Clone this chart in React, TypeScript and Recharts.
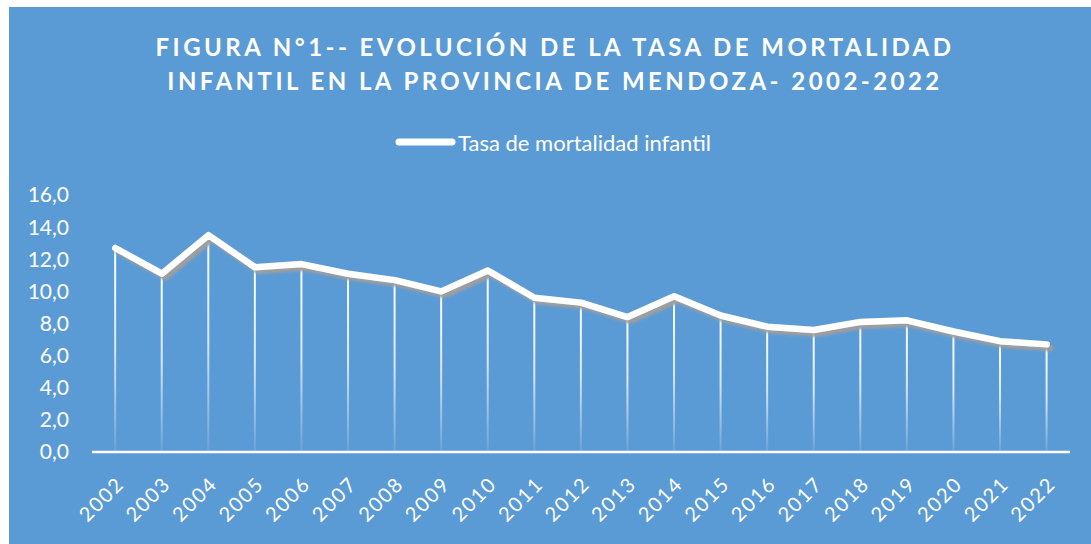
import React from 'react';
import { ComposedChart, Line, Bar, XAxis, YAxis } from 'recharts';

const years = ['2002','2003','2004','2005','2006','2007','2008','2009','2010','2011','2012','2013','2014','2015','2016','2017','2018','2019','2020','2021','2022'];
const tasa = [12.7, 11.1, 13.5, 11.5, 11.7, 11.1, 10.7, 10.0, 11.3, 9.6, 9.3, 8.4, 9.7, 8.5, 7.8, 7.6, 8.1, 8.2, 7.5, 6.9, 6.7];
const yTicks = [0, 2, 4, 6, 8, 10, 12, 14, 16];
const titleLines = ['FIGURA N°1-- EVOLUCIÓN DE LA TASA DE MORTALIDAD', 'INFANTIL EN LA PROVINCIA DE MENDOZA- 2002-2022'];
const seriesName = 'Tasa de mortalidad infantil';

const data = years.map((y, i) => ({ year: y, tasa: tasa[i] }));

const FONT = 'Lato, "Open Sans", sans-serif';

const DropLine = (props: any) => {
  const { x, y, width, height } = props;
  if (height == null || height <= 0) return null;
  return <rect x={x + width / 2 - 1} y={y} width={2} height={height} fill="url(#dropGrad)" />;
};

const XTick = (props: any) => {
  const { x, y, payload } = props;
  return (
    <g transform={`translate(${x},${y})`}>
      <text x={0} y={0} dy="0.72em" textAnchor="end" transform="rotate(-45)" fill="#FFFFFF" fontSize={20} letterSpacing={1.8} fontFamily={FONT}>
        {payload.value}
      </text>
    </g>
  );
};

export default function App() {
  return (
    <div style={{ position: 'absolute', left: 9, top: 7, width: 1082, height: 537, background: '#5B9BD5', overflow: 'hidden' }}>
      {titleLines.map((t, i) => (
        <div key={i} style={{ position: 'absolute', left: 5, width: 1082, top: 26 + i * 34, textAlign: 'center', fontFamily: FONT, fontWeight: 700, fontSize: 24, letterSpacing: 3.45, color: '#fff', lineHeight: '28.8px', whiteSpace: 'nowrap' }}>
          {t}
        </div>
      ))}
      <div style={{ position: 'absolute', left: 385, top: 120, height: 30, display: 'flex', alignItems: 'center', fontFamily: FONT, color: '#fff', fontSize: 22, whiteSpace: 'nowrap' }}>
        <svg width={62} height={10} style={{ marginRight: 2 }}>
          <line x1={5} y1={5} x2={58} y2={5} stroke="#fff" strokeWidth={7} strokeLinecap="round" />
        </svg>
        <span>{seriesName}</span>
      </div>
      <ComposedChart width={1082} height={537} data={data} margin={{ top: 188, right: 21, bottom: 12, left: 23 }}>
        <defs>
          <linearGradient id="dropGrad" x1="0" y1="0" x2="0" y2="1">
            <stop offset="0" stopColor="#FFFFFF" stopOpacity={1} />
            <stop offset="0.5" stopColor="#FFFFFF" stopOpacity={0.75} />
            <stop offset="1" stopColor="#FFFFFF" stopOpacity={0.08} />
          </linearGradient>
          <filter id="lineShadow" x="-5%" y="-20%" width="110%" height="140%">
            <feDropShadow dx={3.5} dy={3.5} stdDeviation={0.8} floodColor="#9E9E9E" floodOpacity={1} />
          </filter>
        </defs>
        <XAxis dataKey="year" axisLine={{ stroke: '#FFFFFF', strokeWidth: 2.5 }} tickLine={false} tick={<XTick />} interval={0} height={80} tickSize={0} tickMargin={23} />
        <YAxis domain={[0, 16]} ticks={yTicks} axisLine={false} tickLine={false} tickSize={0} tickMargin={23} width={60}
          tickFormatter={(v: number) => v.toFixed(1).replace('.', ',')}
          tick={{ fill: '#FFFFFF', fontSize: 21, fontFamily: FONT }} />
        <Bar dataKey="tasa" shape={<DropLine />} isAnimationActive={false} legendType="none" />
        <Line dataKey="tasa" name={seriesName} stroke="#FFFFFF" strokeWidth={6.5} strokeLinejoin="round" strokeLinecap="round" dot={false} activeDot={false} filter="url(#lineShadow)" isAnimationActive={false} />
      </ComposedChart>
    </div>
  );
}
